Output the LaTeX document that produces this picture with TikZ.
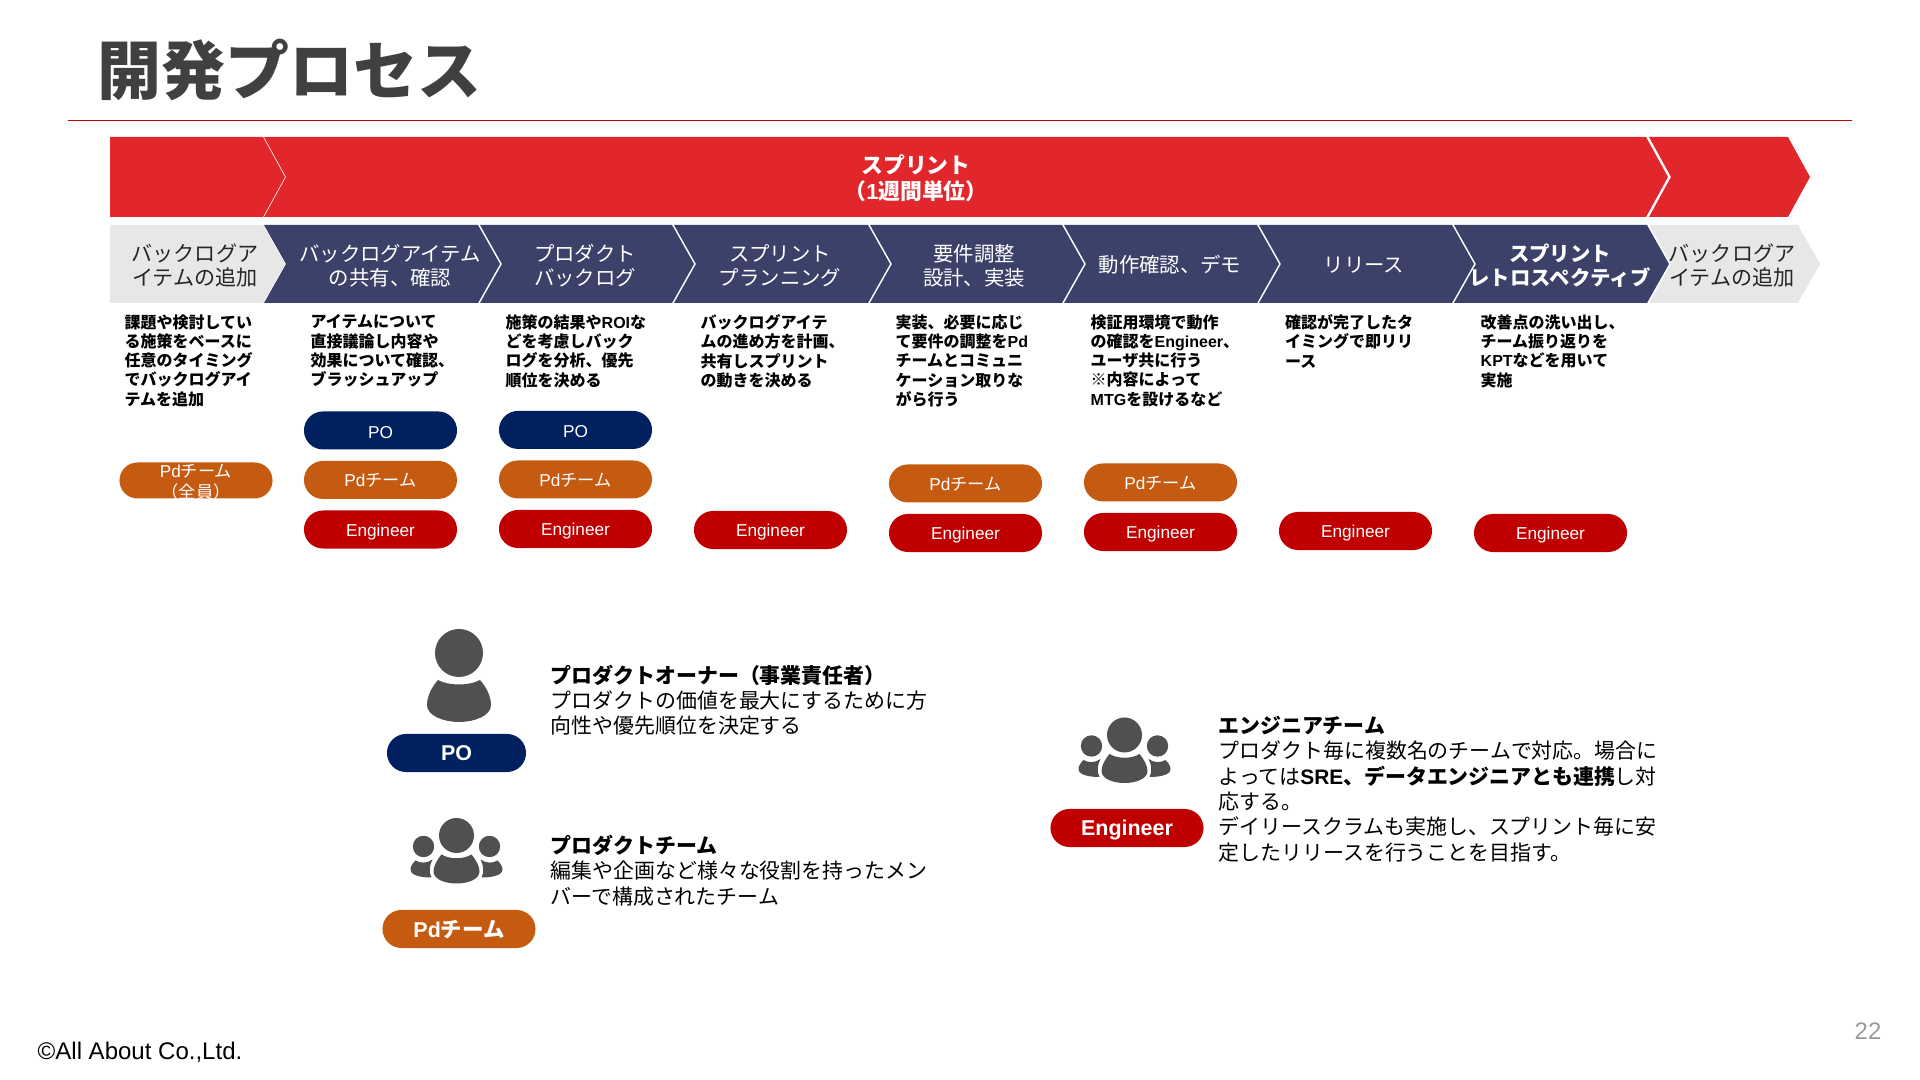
\documentclass[tikz,border=0pt]{standalone}
\usepackage{fontspec}
\setmainfont{Noto Sans CJK JP}
\newfontfamily\latinfont{Liberation Sans}
\newcommand{\lat}[1]{{\latinfont #1}}
\usepackage{tikz}
\usetikzlibrary{shapes.misc, positioning}
\definecolor{sprintred}{HTML}{E2272C}
\definecolor{chevnavy}{HTML}{3B4169}
\definecolor{chevgray}{HTML}{E7E7E7}
\definecolor{ponavy}{HTML}{002060}
\definecolor{pdorange}{HTML}{C55A11}
\definecolor{engred}{HTML}{C00000}
\definecolor{icongray}{HTML}{505050}
\tikzset{
    pill/.style={rounded rectangle, minimum width=1.53cm, minimum height=0.38cm, inner sep=0pt, outer sep=0pt, text=white, font=\fontsize{4.9pt}{5.7pt}\selectfont, align=center},
    pill_navy/.style={pill, fill=ponavy, text height=4.5pt, text depth=0pt},
    pill_orange/.style={pill, fill=pdorange, text height=5pt, text depth=1pt},
    pill_red/.style={pill, fill=engred, text height=4.9pt, text depth=1pt},
    pill_big/.style={font=\fontsize{6.1pt}{7pt}\selectfont\bfseries},
    chev_label/.style={inner sep=0pt, align=center, text=white, font=\fontsize{5.8pt}{6.85pt}\selectfont},
    chev_gray_label/.style={chev_label, text=black!85, font=\fontsize{6pt}{6.85pt}\selectfont},
    desc_text/.style={inner sep=0pt, anchor=north west, align=left, font=\fontsize{4.55pt}{5.46pt}\selectfont\bfseries},
    role_text/.style={inner sep=0pt, anchor=north west, align=left, font=\fontsize{5.95pt}{7.2pt}\selectfont},
    person_icon/.pic={
        \fill[icongray] (0,0) circle (24);
        \fill[icongray] (-21,27) .. controls (-10,33) and (10,33) .. (21,27) .. controls (28,35) and (32,44) .. (32,52) .. controls (32,63) and (15,69) .. (0,69) .. controls (-15,69) and (-32,63) .. (-32,52) .. controls (-32,44) and (-28,35) .. (-21,27) -- cycle;
    },
    side_icon/.pic={
        \fill[icongray] (-33,11) circle (10.7);
        \fill[icongray] (-41,25) .. controls (-36,28) and (-30,28) .. (-24,24) .. controls (-27,30) and (-28,36) .. (-25,42) .. controls (-32,42) and (-46,41) .. (-46,34) .. controls (-46,31) and (-44,28) .. (-41,25) -- cycle;
    },
    team_icon/.pic={
        \fill[icongray] (0,0) circle (17.5);
        \fill[icongray] (-15,19) .. controls (-7,24) and (7,24) .. (15,19) .. controls (20,25) and (23,31) .. (23,36) .. controls (23,44) and (11,48) .. (0,48) .. controls (-11,48) and (-23,44) .. (-23,36) .. controls (-23,31) and (-20,25) .. (-15,19) -- cycle;
        \pic {side_icon};
        \pic [xscale=-1] {side_icon};
    }
}
% chevron body: left x, right x, top y, half height, colour
\newcommand{\chevshape}[5]{\fill[#5] (#1,#3) -- (#2,#3) -- ++(22,#4) -- ++(-22,#4) -- ++({#1-#2},0) -- ++(22,-#4) -- cycle;}

\begin{document}
\begin{tikzpicture}[x=0.01cm, y=-0.01cm]
    \useasboundingbox (0,0) rectangle (1920,1080);

    \node (title) [inner sep=0pt, anchor=west, text=black!75, font=\fontsize{18.2pt}{20pt}\selectfont\bfseries] at (97,70) {開発プロセス};
    \draw[engred, line width=0.5pt] (68,120.5) -- (1852,120.5);

    % sprint row
    \fill[sprintred] (110,137) -- (263,137) -- (285,177) -- (263,217) -- (110,217) -- cycle;
    \chevshape{264}{1646}{137}{40}{sprintred}
    \fill[sprintred] (1649,137) -- (1788,137) -- (1810,177) -- (1788,217) -- (1649,217) -- (1671,177) -- cycle;
    \node (sprint) [chev_label, font=\fontsize{6.2pt}{7.4pt}\selectfont\bfseries] at (916,178) {スプリント\\（\lat{1}週間単位）};

    % step row
    \fill[chevgray] (110,225) -- (263,225) -- (285,264) -- (263,303) -- (110,303) -- cycle;
    \chevshape{264}{478}{225}{39}{chevnavy}
    \chevshape{480}{672}{225}{39}{chevnavy}
    \chevshape{674}{868}{225}{39}{chevnavy}
    \chevshape{870}{1062}{225}{39}{chevnavy}
    \chevshape{1064}{1257}{225}{39}{chevnavy}
    \chevshape{1259}{1452}{225}{39}{chevnavy}
    \chevshape{1454}{1647}{225}{39}{chevnavy}
    \chevshape{1649}{1798}{225}{39}{chevgray}

    \node (backlog_in) [chev_gray_label] at (195,265.5) {バックログア\\イテムの追加};
    \node (share) [chev_label] at (390,265.5) {バックログアイテム\\の共有、確認};
    \node (product) [chev_label] at (585,265.5) {プロダクト\\バックログ};
    \node (planning) [chev_label] at (780,265.5) {スプリント\\プランニング};
    \node (design) [chev_label] at (974,265.5) {要件調整\\設計、実装};
    \node (demo) [chev_label] at (1170,265) {動作確認、デモ};
    \node (release) [chev_label] at (1364,265) {リリース};
    \node (retro) [chev_label, font=\fontsize{5.8pt}{6.85pt}\selectfont\bfseries] at (1560,265.5) {スプリント\\レトロスペクティブ};
    \node (backlog_out) [chev_gray_label] at (1732,265.5) {バックログア\\イテムの追加};

    % descriptions
    \node (desc_a) [desc_text] at (124,314) {課題や検討してい\\る施策をベースに\\任意のタイミング\\でバックログアイ\\テムを追加};
    \node (desc_b) [desc_text] at (310,314) {アイテムについて\\直接議論し内容や\\効果について確認、\\ブラッシュアップ};
    \node (desc_c) [desc_text] at (505,314) {施策の結果や\lat{ROI}な\\どを考慮しバック\\ログを分析、優先\\順位を決める};
    \node (desc_d) [desc_text] at (700,314) {バックログアイテ\\ムの進め方を計画、\\共有しスプリント\\の動きを決める};
    \node (desc_e) [desc_text] at (895,314) {実装、必要に応じ\\て要件の調整を\lat{Pd}\\チームとコミュニ\\ケーション取りな\\がら行う};
    \node (desc_f) [desc_text] at (1090,314) {検証用環境で動作\\の確認を\lat{Engineer}、\\ユーザ共に行う\\※内容によって\\\lat{MTG}を設けるなど};
    \node (desc_g) [desc_text] at (1284.5,314) {確認が完了したタ\\イミングで即リリ\\ース};
    \node (desc_h) [desc_text] at (1480,314) {改善点の洗い出し、\\チーム振り返りを\\\lat{KPT}などを用いて\\実施};

    % pills under the steps
    \node (pd_a) [pill_orange, minimum height=0.36cm, font=\fontsize{4.9pt}{5.95pt}\selectfont, text height=10.1pt, text depth=0pt] at (196,480.5) {\lat{Pd}チーム\\（全員）};

    \node (eng_b) [pill_red] at (380.5,529.5) {\lat{Engineer}};
    \node (pd_b) [pill_orange, above=0.115cm of eng_b] {\lat{Pd}チーム};
    \node (po_b) [pill_navy, above=0.115cm of pd_b] {\lat{PO}};

    \node (eng_c) [pill_red] at (575.5,529) {\lat{Engineer}};
    \node (pd_c) [pill_orange, above=0.115cm of eng_c] {\lat{Pd}チーム};
    \node (po_c) [pill_navy, above=0.115cm of pd_c] {\lat{PO}};

    \node (eng_d) [pill_red] at (770.5,530) {\lat{Engineer}};

    \node (eng_e) [pill_red] at (965.5,533) {\lat{Engineer}};
    \node (pd_e) [pill_orange, above=0.115cm of eng_e] {\lat{Pd}チーム};

    \node (eng_f) [pill_red] at (1160.5,532) {\lat{Engineer}};
    \node (pd_f) [pill_orange, above=0.115cm of eng_f] {\lat{Pd}チーム};

    \node (eng_g) [pill_red] at (1355.5,531) {\lat{Engineer}};
    \node (eng_h) [pill_red] at (1550.5,533) {\lat{Engineer}};

    % role legend
    \pic at (459,653) {person_icon};
    \node (po_big) [pill_navy, pill_big, minimum width=1.39cm, text height=4.4pt] at (456.5,753) {\lat{PO}};
    \node (po_role) [role_text] at (550,664) {\textbf{プロダクトオーナー（事業責任者）}\\プロダクトの価値を最大にするために方\\向性や優先順位を決定する};

    \pic at (456.5,835.5) {team_icon};
    \node (pd_big) [pill_orange, pill_big, text height=5.8pt, text depth=0.94pt] at (459,929) {\lat{Pd}チーム};
    \node (pd_role) [role_text] at (550,834.5) {\textbf{プロダクトチーム}\\編集や企画など様々な役割を持ったメン\\バーで構成されたチーム};

    \pic at (1124.5,735) {team_icon};
    \node (eng_big) [pill_red, pill_big, text height=5.8pt, text depth=1.3pt] at (1127,828) {\lat{Engineer}};
    \node (eng_role) [role_text] at (1218,715.5) {\textbf{エンジニアチーム}\\プロダクト毎に複数名のチームで対応。場合に\\よっては\textbf{\lat{SRE}、データエンジニアとも連携}し対\\応する。\\デイリースクラムも実施し、スプリント毎に安\\定したリリースを行うことを目指す。};

    \node (copyright) [inner sep=0pt, anchor=west, font=\fontsize{6.83pt}{8pt}\selectfont\latinfont] at (37,1052) {©All About Co.,Ltd.};
    \node (page) [inner sep=0pt, text=black!40, font=\fontsize{6.8pt}{8pt}\selectfont\latinfont] at (1868,1031) {22};
\end{tikzpicture}
\end{document}
